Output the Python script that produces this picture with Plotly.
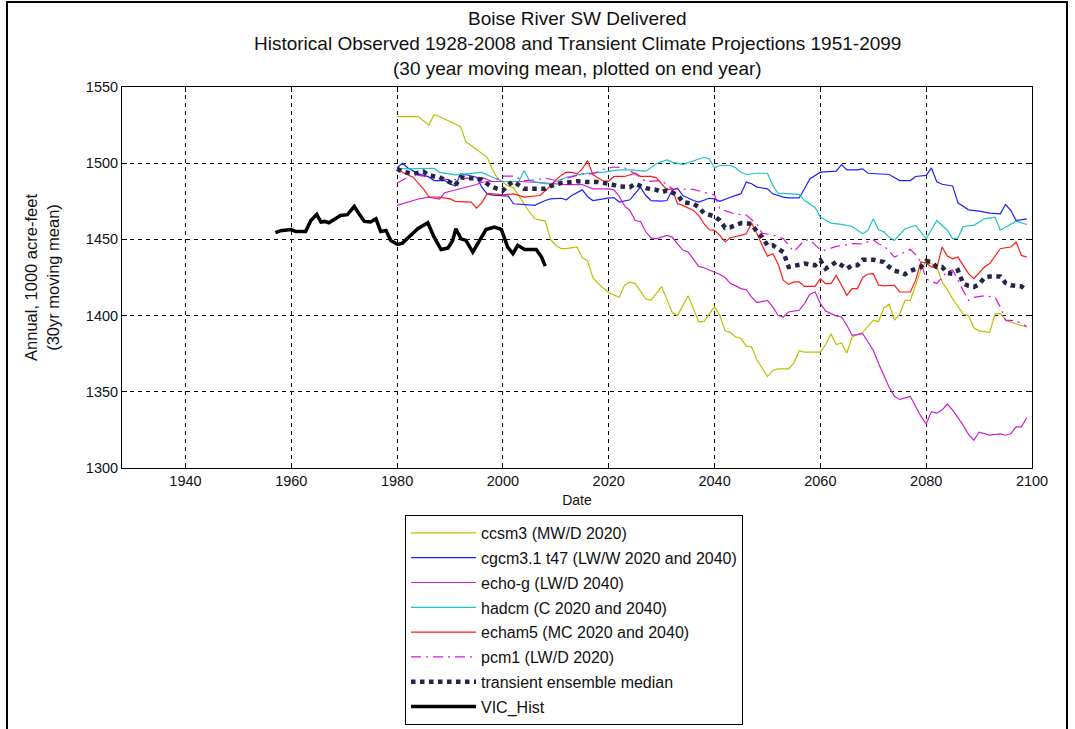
import plotly.graph_objects as go

# ---------------- data ----------------
ccsm3_years = [1980, 1984, 1986, 1987, 1989, 1991, 1992, 1993, 1995, 1997, 1998, 1999, 2001, 2002,
               2005, 2006, 2008, 2009, 2010, 2011, 2012, 2014, 2015, 2016, 2017, 2018, 2020, 2022,
               2023, 2024, 2025, 2027, 2028, 2030, 2032, 2033, 2035, 2037, 2038, 2040, 2041, 2042,
               2043, 2044, 2045, 2046, 2047, 2048, 2050, 2051, 2052, 2054, 2055, 2056, 2057, 2060,
               2061, 2062, 2063, 2064, 2065, 2066, 2068, 2069, 2070, 2071, 2072, 2073, 2074, 2075,
               2076, 2077, 2078, 2079, 2080, 2081, 2082, 2083, 2084, 2085, 2086, 2087, 2088, 2089,
               2090, 2091, 2092, 2093, 2094, 2095, 2096, 2097, 2098, 2099]
ccsm3_vals = [1530.6, 1530.6, 1525, 1532, 1529, 1526, 1524, 1514, 1509, 1504, 1496, 1490, 1485, 1484,
              1468, 1463.5, 1462, 1450, 1446, 1444, 1444, 1445, 1438, 1436, 1425, 1421, 1415, 1412,
              1420, 1422, 1421, 1411, 1410, 1419, 1402, 1400, 1413, 1396, 1396, 1406, 1400, 1390,
              1389, 1386, 1385, 1380, 1379.5, 1371, 1360, 1364, 1365, 1365, 1369, 1377, 1376, 1376,
              1381, 1388, 1381, 1382, 1375.5, 1386, 1389, 1393, 1397, 1396, 1405, 1407.4, 1397, 1401,
              1410, 1410, 1420, 1430, 1436, 1434, 1432, 1422, 1417, 1411, 1406, 1401, 1400, 1392,
              1390, 1389.5, 1389, 1401, 1401.5, 1397, 1395.5, 1394.5, 1393.5, 1392.5]

cgcm_years = [1980, 1981, 1982, 1984, 1986, 1987, 1989, 1990, 1991, 1992, 1993, 1995, 1996, 1997,
              1998, 2001, 2002, 2004, 2006, 2008, 2009, 2011, 2012, 2013, 2015, 2016, 2017, 2019,
              2020, 2021, 2022, 2024, 2025, 2026, 2027, 2028, 2030, 2031, 2032, 2033, 2034, 2036,
              2037, 2038, 2039, 2040, 2041, 2043, 2045, 2046, 2047, 2048, 2050, 2051, 2053, 2054,
              2056, 2057, 2058, 2060, 2062, 2063, 2064, 2065, 2067, 2068, 2069, 2071, 2073, 2075,
              2077, 2078, 2080, 2081, 2082, 2083, 2085, 2086, 2088, 2090, 2092, 2094, 2095, 2096,
              2097, 2099]
cgcm_vals = [1497, 1500, 1497, 1493, 1491, 1488.6, 1488.6, 1486.5, 1485, 1493, 1492.4, 1490.8, 1484.3, 1480,
             1479, 1478.4, 1473.4, 1472.7, 1472.3, 1475.5, 1476.6, 1477, 1476, 1478.8, 1482.5, 1478, 1475.5, 1476.6,
             1477.3, 1477.3, 1474.5, 1476, 1479.9, 1484.3, 1478.8, 1475.5, 1475.1, 1475.5, 1482.5, 1483.6, 1478.8, 1475.5,
             1474.5, 1475.5, 1477, 1476.6, 1475, 1477.7, 1480, 1487.6, 1486.5, 1484.3, 1483.2, 1479.9, 1477.7, 1477.3,
             1477.3, 1483.2, 1489.7, 1494.1, 1494.8, 1494.8, 1499.1, 1495.6, 1495.6, 1496.3, 1493.4, 1493, 1492.6, 1488.6,
             1488.6, 1491.3, 1492, 1496.9, 1487.8, 1486.2, 1485.1, 1474, 1469.4, 1468.6, 1467.2, 1466.8, 1472.9, 1469,
             1462.4, 1463.5]

echo_years = [1980, 1982, 1984, 1986, 1988, 1989, 1991, 1992, 1993, 1995, 1996, 1998, 2000, 2003, 2006,
              2009, 2012, 2015, 2017, 2020, 2021, 2022, 2023, 2024, 2025, 2026, 2027, 2028, 2029, 2031,
              2032, 2033, 2034, 2035, 2036, 2037, 2038, 2040, 2041, 2042, 2043, 2044, 2045, 2046, 2047,
              2048, 2050, 2051, 2052, 2053, 2054, 2056, 2057, 2058, 2059, 2060, 2061, 2062, 2063, 2064,
              2065, 2066, 2067, 2068, 2069, 2070, 2071, 2072, 2073, 2074, 2075, 2077, 2078, 2079, 2080,
              2081, 2082, 2083, 2084, 2085, 2086, 2087, 2088, 2089, 2090, 2091, 2092, 2094, 2095, 2096,
              2097, 2098, 2099]
echo_vals = [1472.3, 1474.5, 1476.5, 1477.7, 1476.5, 1480.6, 1482.5, 1483.2, 1484.3, 1486, 1487.5, 1488, 1488, 1488, 1487.5,
             1486.5, 1486, 1486, 1483.2, 1483.2, 1482.5, 1478, 1472, 1469, 1462.4, 1461.8, 1455, 1451, 1450.4, 1452.6,
             1451.5, 1447, 1443, 1441.7, 1437, 1432.3, 1431.4, 1428.6, 1427, 1425, 1421, 1419.5, 1417.7, 1417, 1412.2,
             1408.5, 1410, 1405.7, 1400.2, 1399.1, 1402.4, 1403.5, 1407.9, 1414, 1415.5, 1408, 1403, 1401.3, 1399.8, 1399.1,
             1393.7, 1387, 1387.5, 1388.2, 1382.7, 1377.3, 1368.6, 1361, 1353, 1347, 1345, 1347, 1340, 1334, 1329,
             1337, 1336, 1338, 1342, 1338, 1333, 1328, 1322, 1318.2, 1323.5, 1322.5, 1321.6, 1322.4, 1321.5, 1322.5,
             1327, 1327, 1333]

hadcm_years = [1980, 1982, 1987, 1988, 1991, 1993, 1996, 1998, 2000, 2003, 2004, 2005, 2007, 2009, 2012,
               2015, 2019, 2022, 2024, 2027, 2029, 2031, 2032, 2034, 2036, 2038, 2039, 2040, 2041, 2043,
               2044, 2045, 2046, 2048, 2050, 2051, 2052, 2054, 2056, 2057, 2059, 2060, 2062, 2064, 2066,
               2068, 2069, 2070, 2071, 2072, 2073, 2074, 2075, 2076, 2078, 2080, 2082, 2083, 2084, 2085,
               2086, 2087, 2089, 2091, 2093, 2094, 2095, 2097, 2099]
hadcm_vals = [1496.7, 1496.3, 1496.7, 1494, 1492.4, 1493, 1494, 1490.8, 1488, 1488, 1495.2, 1488.6, 1487.1, 1486.5, 1490.8,
              1493, 1494.1, 1495.6, 1495.6, 1494.8, 1499.6, 1502.2, 1500.7, 1499.1, 1501.3, 1503.9, 1502.8, 1497, 1498.5, 1498.5,
              1497, 1494, 1492.6, 1493.4, 1493.4, 1485.4, 1480.3, 1479.9, 1479.5, 1475.5, 1471, 1464.6, 1460.7, 1459.8, 1458.5,
              1453.7, 1455.9, 1463.5, 1456.3, 1455, 1451.5, 1449.3, 1453, 1457, 1459.2, 1450.4, 1462.4, 1459.2, 1456, 1450.4,
              1451, 1458.5, 1459.2, 1463.5, 1464.6, 1456, 1458, 1462, 1459.8]

echam_years = [1980, 1981, 1983, 1984, 1985, 1986, 1988, 1990, 1991, 1994, 1995, 1996, 1997, 1998, 2000,
               2002, 2004, 2007, 2008, 2009, 2010, 2011, 2012, 2013, 2014, 2015, 2016, 2017, 2019, 2020,
               2021, 2023, 2025, 2026, 2028, 2029, 2031, 2032, 2033, 2034, 2036, 2037, 2038, 2039, 2040,
               2041, 2042, 2043, 2045, 2046, 2047, 2048, 2049, 2050, 2051, 2052, 2053, 2054, 2055, 2056,
               2057, 2059, 2060, 2061, 2062, 2063, 2064, 2065, 2066, 2067, 2068, 2069, 2070, 2071, 2072,
               2074, 2075, 2077, 2078, 2079, 2080, 2081, 2082, 2083, 2084, 2085, 2086, 2088, 2089, 2091,
               2092, 2094, 2095, 2096, 2097, 2098, 2099]
echam_vals = [1497.4, 1494.1, 1490.8, 1487, 1483, 1478, 1477.7, 1476.6, 1475, 1474.5, 1470.5, 1474, 1480, 1479.9, 1479.3,
              1479.9, 1477.7, 1478.8, 1482.1, 1485, 1489, 1492, 1494.1, 1494, 1493, 1496.3, 1501.7, 1492.6, 1488.2, 1488.2,
              1491.3, 1491.3, 1493.4, 1491.3, 1491.3, 1490.4, 1482.5, 1483.2, 1473.4, 1472.3, 1469, 1465.7, 1460.3, 1456.3, 1455.9,
              1452.6, 1448.5, 1451.1, 1452.6, 1453.7, 1460.7, 1454.1, 1446, 1439, 1440.6, 1434, 1423.1, 1420.5, 1422.1, 1422.1,
              1419.2, 1419.2, 1424.2, 1421, 1421, 1426.4, 1419.9, 1413.3, 1417.7, 1417.7, 1425, 1427.3, 1427.5, 1420, 1419.5,
              1419.9, 1415.5, 1415.5, 1423.1, 1435.2, 1434.5, 1432, 1431, 1445, 1439, 1437.3, 1438.4, 1427.5, 1424.2, 1431.9,
              1434.1, 1443.9, 1444.5, 1445, 1448.3, 1439.5, 1438.4]

pcm1_years = [1980, 1982, 1984, 1986, 1990, 1993, 1996, 1998, 2000, 2002, 2004, 2006, 2008, 2010, 2012,
              2015, 2017, 2019, 2021, 2023, 2025, 2027, 2030, 2032, 2036, 2039, 2040, 2041, 2042, 2044,
              2046, 2048, 2049, 2051, 2053, 2055, 2057, 2058, 2060, 2061, 2063, 2064, 2066, 2068, 2070,
              2071, 2072, 2074, 2077, 2078, 2079, 2080, 2082, 2084, 2085, 2087, 2088, 2089, 2091, 2093,
              2094, 2095, 2097, 2099]
pcm1_vals = [1487, 1490.8, 1492, 1491, 1489, 1490, 1490.8, 1488, 1491.5, 1491.5, 1488.6, 1489, 1490.2, 1488.6, 1490,
             1493, 1493, 1496, 1497.5, 1497, 1493, 1488, 1488.6, 1483.2, 1482.8, 1480, 1479, 1470, 1469, 1466.5,
             1466, 1460, 1454, 1453, 1450.4, 1442, 1449.5, 1449.8, 1443, 1443, 1445.4, 1446, 1447.2, 1447, 1449.8,
             1447, 1446, 1438.4, 1443.5, 1440, 1435, 1424, 1421, 1429, 1430, 1416.4, 1410, 1412, 1413, 1412,
             1405.7, 1397, 1396.6, 1393]

median_years = [1980, 1981, 1983, 1985, 1986, 1988, 1990, 1991, 1992, 1994, 1996, 1997, 1998, 2000, 2001,
                2002, 2004, 2006, 2008, 2009, 2011, 2013, 2014, 2016, 2018, 2020, 2022, 2024, 2025, 2027,
                2029, 2030, 2031, 2033, 2034, 2036, 2037, 2038, 2040, 2041, 2042, 2043, 2044, 2045, 2047,
                2048, 2049, 2050, 2051, 2053, 2054, 2056, 2057, 2059, 2060, 2061, 2062, 2063, 2065, 2066,
                2067, 2068, 2070, 2072, 2073, 2074, 2075, 2076, 2077, 2079, 2080, 2081, 2082, 2083, 2084,
                2085, 2086, 2087, 2088, 2089, 2090, 2091, 2092, 2094, 2095, 2096, 2098, 2099]
median_vals = [1496.3, 1494.5, 1493, 1494.5, 1492, 1490.8, 1487.5, 1485.4, 1490.8, 1490.2, 1489.3, 1486.5, 1484.3, 1482.1, 1485.8,
               1488, 1483.2, 1483.2, 1483.2, 1485, 1487, 1487.6, 1488.2, 1487.6, 1487.6, 1486.5, 1484.7, 1484.3, 1486.5, 1483.6,
               1482.5, 1481, 1482.1, 1479.3, 1474.5, 1473.4, 1471.2, 1467.2, 1465.1, 1462.5, 1457.6, 1458, 1459.2, 1460.7, 1460.3,
               1455, 1451.5, 1446.1, 1446.1, 1441.7, 1431.9, 1433.6, 1434.1, 1433, 1436.2, 1430.8, 1433, 1435.2, 1430.8, 1433,
               1433, 1436.7, 1436.7, 1435.2, 1431.9, 1429.5, 1428.6, 1427.1, 1429.3, 1431.9, 1435.8, 1435.2, 1431.9, 1431.9, 1428,
               1427.5, 1429.7, 1421, 1419.5, 1418.8, 1420.5, 1424.9, 1425.7, 1425.7, 1421.4, 1419.9, 1419.2, 1416.6]

vic_years = [1957.0, 1958.0, 1959.9, 1960.8, 1962.7, 1963.7, 1964.8, 1965.6, 1966.3, 1967.1, 1968.1, 1969.3,
             1970.6, 1971.9, 1972.8, 1973.8, 1975.0, 1976.0, 1976.9, 1977.9, 1978.8, 1980.1, 1981.0, 1982.3,
             1983.9, 1985.8, 1987.0, 1988.3, 1989.6, 1990.5, 1991.1, 1992.1, 1993.0, 1994.3, 1995.5, 1996.8,
             1998.4, 1999.7, 2000.9, 2001.9, 2002.8, 2004.1, 2006.3, 2007.3, 2008.0]
vic_vals = [1454.4, 1455.7, 1456.5, 1455.2, 1455.2, 1462.4, 1466.4, 1461.4, 1461.8, 1460.9, 1463.1, 1465.7,
            1466.2, 1471.6, 1466.8, 1461.8, 1461.4, 1463.5, 1455.2, 1455.9, 1449.3, 1446.7, 1447.6, 1451.5,
            1457.0, 1460.9, 1451.5, 1443.4, 1444.3, 1449.3, 1457.0, 1450.4, 1449.3, 1441.7, 1449.3, 1456.5,
            1458.1, 1456.5, 1445.0, 1440.6, 1446.1, 1443.4, 1443.4, 1438.4, 1432.5]

x_ticks = [1940, 1960, 1980, 2000, 2020, 2040, 2060, 2080, 2100]
y_ticks = [1300, 1350, 1400, 1450, 1500, 1550]

title_lines = ["Boise River SW Delivered",
               "Historical Observed 1928-2008 and Transient Climate Projections 1951-2099",
               "(30 year moving mean, plotted on end year)"]

# ---------------- figure ----------------
FONT = "Liberation Sans, Arial, Helvetica, sans-serif"
fig = go.Figure()

series = [
    ("ccsm3 (MW/D 2020)", ccsm3_years, ccsm3_vals, "#bfbf00", 1.2, "solid"),
    ("cgcm3.1 t47 (LW/W 2020 and 2040)", cgcm_years, cgcm_vals, "#1f1fff", 1.2, "solid"),
    ("echo-g (LW/D 2040)", echo_years, echo_vals, "#cc1fcc", 1.2, "solid"),
    ("hadcm (C 2020 and 2040)", hadcm_years, hadcm_vals, "#19c4c4", 1.2, "solid"),
    ("echam5 (MC 2020 and 2040)", echam_years, echam_vals, "#ff1a1a", 1.2, "solid"),
    ("pcm1 (LW/D 2020)", pcm1_years, pcm1_vals, "#dd10dd", 1.2, "10px,5px,2px,5px"),
    ("transient ensemble median", median_years, median_vals, "#25254a", 4.5, "dot"),
    ("VIC_Hist", vic_years, vic_vals, "#000000", 3.5, "solid"),
]

for i, (name, xs, ys, col, w, dash) in enumerate(series):
    fig.add_trace(go.Scatter(
        x=xs, y=ys, mode="lines", name=name, legendgroup=f"g{i}",
        line=dict(color=col, width=w, dash=dash),
    ))

L, R, T, B = 122, 43, 87, 261
W, H = 1075, 729
pw, ph = W - L - R, H - T - B

for k, line in enumerate(title_lines):
    py = 19 + 24.5 * k
    fig.add_annotation(text=line, xref="paper", yref="paper", x=0.5, y=(H - B - py) / ph,
                       xanchor="center", yanchor="middle", showarrow=False,
                       font=dict(family=FONT, size=19, color="#111"))

# outer frame of the figure window
fig.add_shape(type="rect", xref="paper", yref="paper",
              x0=(7 - L) / pw, x1=(1067 - L) / pw, y0=(H - B - 745) / ph, y1=(H - B - 2) / ph,
              line=dict(color="black", width=2), fillcolor="rgba(0,0,0,0)", layer="above")

axis_common = dict(showline=True, linecolor="black", linewidth=1, mirror="ticks",
                   ticks="inside", ticklen=5, tickcolor="black",
                   showgrid=True, gridcolor="black", gridwidth=1, griddash="4px,4px",
                   zeroline=False, tickfont=dict(family=FONT, size=14.5, color="#111"))

fig.update_layout(
    width=W, height=H,
    margin=dict(l=L, r=R, t=T, b=B, autoexpand=False),
    paper_bgcolor="white", plot_bgcolor="white",
    font=dict(family=FONT, color="#111"),
    xaxis=dict(range=[1928, 2100], tickvals=x_ticks,
               title=dict(text="Date", font=dict(family=FONT, size=14), standoff=6),
               **axis_common),
    yaxis=dict(range=[1300, 1550], tickvals=y_ticks,
               title=dict(text="Annual, 1000 acre-feet<br>(30yr moving mean)",
                          font=dict(family=FONT, size=16.5), standoff=22),
               **axis_common),
    legend=dict(x=(405 - L) / pw, y=(H - B - 515) / ph, xanchor="left", yanchor="top",
                bgcolor="white", bordercolor="black", borderwidth=1,
                font=dict(family=FONT, size=16, color="#111"),
                tracegroupgap=1, traceorder="grouped", itemwidth=65),
    showlegend=True,
)

fig.write_html("out.html",
               config={"displayModeBar": False},
               post_script="document.body.style.margin='0px';document.body.style.overflow='hidden';")
